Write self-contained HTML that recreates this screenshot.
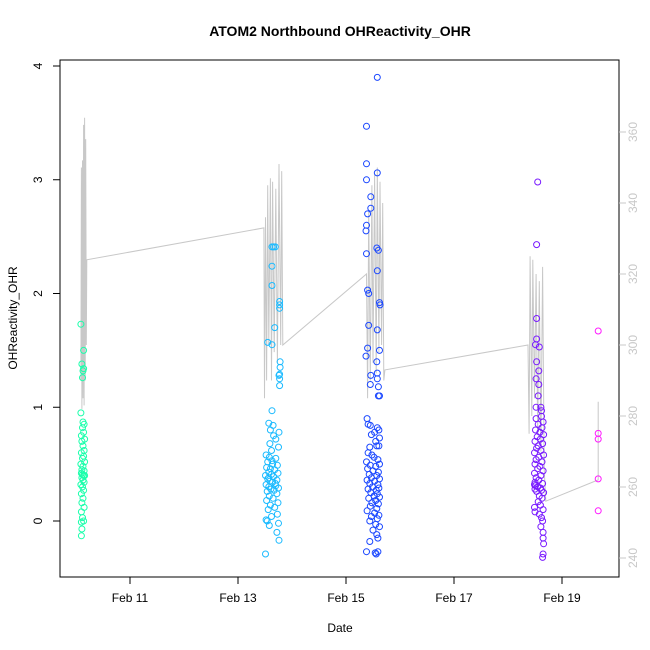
<!DOCTYPE html>
<html><head><meta charset="utf-8"><style>
html,body{margin:0;padding:0;background:#fff}
svg{display:block;font-family:"Liberation Sans",sans-serif}
</style></head><body>
<svg id="chart" width="650" height="650" viewBox="0 0 650 650">
<text x="340" y="36" text-anchor="middle" font-size="14" font-weight="bold">ATOM2 Northbound OHReactivity_OHR</text>
<text x="340" y="632" text-anchor="middle" font-size="12">Date</text>
<text transform="translate(17,318) rotate(-90)" text-anchor="middle" font-size="12">OHReactivity_OHR</text>
<rect x="60" y="60" width="559" height="517" fill="none" stroke="#000"/>
<g id="grayg"></g>
<g id="ptsg"></g>
<g id="axg"></g>
</svg>
<script>
const xTicks=[11,13,15,17,19];
const xTickLabels=["Feb 11","Feb 13","Feb 15","Feb 17","Feb 19"];
const yTicks=[0,1,2,3,4];
const y2Ticks=[240,260,280,300,320,340,360];
const lineTimes=[10.09,10.10,10.11,10.12,10.13,10.14,10.15,10.16,10.17,10.18,10.19,10.20,
13.48,13.49,13.51,13.53,13.55,13.57,13.60,13.62,13.64,13.67,13.70,13.73,13.76,13.79,13.81,13.83,
15.38,15.40,15.42,15.45,15.48,15.50,15.53,15.56,15.58,15.61,15.63,15.66,15.68,15.70,15.72,
18.37,18.39,18.41,18.44,18.46,18.49,18.52,18.55,18.58,18.61,18.64,18.67,18.70,
19.67,19.67];
const lineValues=[290,350,282,352,285,362,283,364,290,358,300,324,
333,285,336,290,345,300,347,290,346,298,344,295,351,300,349,300,
320,285,338,290,345,295,348,292,350,298,346,300,340,290,293,
300,275,325,280,324,285,320,275,318,270,322,265,256,
262,284];
const cluster1=[[10.09,1.73],[10.11,1.38],[10.14,1.50],[10.13,1.32],[10.14,1.34],[10.12,1.26],[10.09,0.95],
[10.13,0.87],[10.15,0.85],[10.12,0.82],[10.14,0.78],[10.10,0.75],[10.16,0.72],[10.11,0.70],[10.13,0.66],[10.15,0.62],
[10.10,0.60],[10.14,0.57],[10.12,0.55],[10.16,0.52],[10.09,0.50],[10.13,0.48],[10.11,0.45],[10.15,0.44],[10.10,0.42],
[10.12,0.41],[10.14,0.40],[10.16,0.40],[10.11,0.38],[10.13,0.36],[10.15,0.34],[10.09,0.32],[10.12,0.30],[10.14,0.27],
[10.10,0.24],[10.13,0.20],[10.11,0.16],[10.15,0.12],[10.10,0.08],[10.12,0.03],[10.14,0.00],[10.10,-0.01],[10.11,-0.07],[10.10,-0.13]];
const cluster2=[[13.63,2.41],[13.66,2.41],[13.69,2.41],[13.63,2.24],[13.63,2.07],[13.77,1.90],[13.77,1.93],[13.77,1.87],
[13.55,1.57],[13.63,1.55],[13.68,1.70],[13.78,1.40],[13.78,1.35],[13.77,1.25],[13.77,1.29],[13.76,1.28],[13.77,1.19],[13.63,0.97],
[13.57,0.86],[13.65,0.84],[13.60,0.80],[13.76,0.78],[13.66,0.75],[13.70,0.72],[13.59,0.68],[13.75,0.65],[13.62,0.62],
[13.52,0.58],[13.58,0.56],[13.70,0.55],[13.55,0.52],[13.64,0.50],[13.73,0.49],[13.53,0.47],[13.60,0.46],[13.68,0.45],
[13.57,0.43],[13.74,0.42],[13.62,0.41],[13.51,0.40],[13.66,0.39],[13.55,0.37],[13.72,0.36],[13.59,0.35],[13.64,0.34],
[13.52,0.32],[13.70,0.31],[13.57,0.30],[13.75,0.29],[13.61,0.28],[13.67,0.27],[13.54,0.26],[13.72,0.24],[13.58,0.22],
[13.65,0.20],[13.53,0.18],[13.74,0.16],[13.60,0.14],[13.68,0.12],[13.56,0.10],[13.73,0.06],[13.62,0.04],[13.52,0.01],
[13.54,0.00],[13.75,-0.02],[13.58,-0.04],[13.72,-0.10],[13.76,-0.17],[13.51,-0.29],[13.63,0.53],[13.69,0.33],[13.57,0.38]];
const cluster3=[[15.58,3.90],[15.38,3.47],[15.38,3.14],[15.38,3.00],[15.46,2.85],[15.46,2.75],[15.40,2.70],[15.38,2.60],
[15.37,2.55],[15.58,3.06],[15.38,2.35],[15.57,2.40],[15.60,2.38],[15.40,2.03],[15.58,2.20],[15.42,2.00],[15.62,1.92],
[15.63,1.90],[15.42,1.72],[15.58,1.68],[15.40,1.52],[15.37,1.45],[15.62,1.50],[15.57,1.40],[15.58,1.30],[15.46,1.28],
[15.58,1.25],[15.45,1.20],[15.62,1.10],[15.60,1.10],[15.60,1.18],[15.39,0.90],[15.41,0.85],[15.45,0.84],[15.58,0.82],
[15.61,0.80],[15.53,0.78],[15.47,0.76],[15.62,0.73],[15.55,0.70],[15.57,0.66],[15.61,0.66],[15.44,0.65],[15.41,0.60],
[15.48,0.58],[15.52,0.56],[15.59,0.54],[15.38,0.52],[15.62,0.50],[15.45,0.49],[15.55,0.48],[15.40,0.46],[15.50,0.44],
[15.60,0.43],[15.43,0.41],[15.57,0.40],[15.47,0.38],[15.62,0.37],[15.39,0.36],[15.53,0.35],[15.44,0.33],[15.59,0.32],
[15.49,0.30],[15.61,0.29],[15.41,0.28],[15.56,0.27],[15.46,0.25],[15.58,0.24],[15.52,0.22],[15.62,0.21],[15.42,0.20],
[15.55,0.18],[15.48,0.16],[15.60,0.15],[15.45,0.13],[15.57,0.11],[15.39,0.09],[15.53,0.07],[15.61,0.05],[15.47,0.04],
[15.58,0.02],[15.44,0.00],[15.55,-0.03],[15.62,-0.05],[15.50,-0.08],[15.57,-0.12],[15.59,-0.15],[15.44,-0.18],
[15.38,-0.27],[15.54,-0.28],[15.56,-0.29],[15.59,-0.27]];
const cluster4=[[18.55,2.98],[18.53,2.43],[18.53,1.78],[18.53,1.60],[18.51,1.55],[18.58,1.53],[18.53,1.40],
[18.57,1.32],[18.52,1.25],[18.57,1.20],[18.56,1.10],[18.52,1.00],[18.61,1.00],[18.62,0.97],[18.62,0.92],[18.52,0.90],
[18.65,0.87],[18.56,0.85],[18.63,0.82],[18.51,0.80],[18.59,0.78],[18.66,0.76],[18.54,0.74],[18.60,0.72],[18.50,0.70],
[18.64,0.68],[18.56,0.66],[18.53,0.64],[18.61,0.62],[18.49,0.60],[18.66,0.58],[18.57,0.56],[18.52,0.54],[18.63,0.52],
[18.50,0.50],[18.59,0.48],[18.55,0.46],[18.65,0.44],[18.49,0.42],[18.61,0.40],[18.52,0.38],[18.57,0.36],[18.50,0.34],
[18.64,0.33],[18.49,0.32],[18.51,0.31],[18.55,0.30],[18.60,0.29],[18.50,0.28],[18.62,0.27],[18.53,0.26],[18.66,0.25],
[18.58,0.22],[18.63,0.20],[18.56,0.17],[18.60,0.14],[18.49,0.12],[18.65,0.10],[18.50,0.08],[18.58,0.06],[18.62,0.03],
[18.64,0.00],[18.61,-0.05],[18.65,-0.10],[18.65,-0.15],[18.66,-0.20],[18.65,-0.29],[18.64,-0.32]];
const cluster5=[[19.67,1.67],[19.67,0.77],[19.67,0.72],[19.67,0.37],[19.67,0.09]];
const clusters=[cluster1,cluster2,cluster3,cluster4,cluster5];
const clusterHues=[158,198,228,265,300];
const NS='http://www.w3.org/2000/svg';
const X0=60,X1=619,Y0=60,Y1=577;
function xs(t){return 130+(t-11)*54;}
function ys(v){return 521-v*113.75;}
function y2s(v){return 558-(v-240)*3.55;}
function mk(tag,attrs,parent){const e=document.createElementNS(NS,tag);for(const k in attrs)e.setAttribute(k,attrs[k]);parent.appendChild(e);return e;}
const grayg=document.getElementById('grayg'),ptsg=document.getElementById('ptsg'),axg=document.getElementById('axg');
let d='';
for(let i=0;i<lineTimes.length;i++){d+=(i?'L':'M')+xs(lineTimes[i]).toFixed(1)+' '+y2s(lineValues[i]).toFixed(1);}
const pl=mk('path',{d:d,fill:'none',stroke:'#c8c8c8','stroke-width':1},grayg);


clusters.forEach((cl,ci)=>{
  cl.forEach(p=>{
    const c=mk('circle',{cx:xs(p[0]).toFixed(1),cy:ys(p[1]).toFixed(1),r:3,fill:'none',stroke:'hsl('+clusterHues[ci]+',100%,55%)','stroke-width':1},ptsg);
    
    
  });
});
for(let i=0;i<xTicks.length;i++){
  const x=xs(xTicks[i]);
  const l=mk('line',{x1:x,x2:x,y1:Y1,y2:Y1+7,stroke:'#000'},axg);
  
  
  const t=mk('text',{x:x,y:602,'text-anchor':'middle','font-size':12},axg);
  t.textContent=xTickLabels[i];
  
  
}
for(let i=0;i<yTicks.length;i++){
  const y=ys(yTicks[i]);
  const l=mk('line',{x1:X0,x2:X0-7,y1:y,y2:y,stroke:'#000'},axg);
  
  
  const t=mk('text',{transform:'translate(42,'+y+') rotate(-90)','text-anchor':'middle','font-size':12},axg);
  t.textContent=String(yTicks[i]);
  
  
}
for(let i=0;i<y2Ticks.length;i++){
  const y=y2s(y2Ticks[i]);
  const l=mk('line',{x1:X1,x2:X1+7,y1:y,y2:y,stroke:'#c8c8c8'},axg);
  
  
  const t=mk('text',{transform:'translate(637,'+y+') rotate(-90)','text-anchor':'middle','font-size':12,fill:'#c8c8c8'},axg);
  t.textContent=String(y2Ticks[i]);
  
  
}
</script>
</body></html>
